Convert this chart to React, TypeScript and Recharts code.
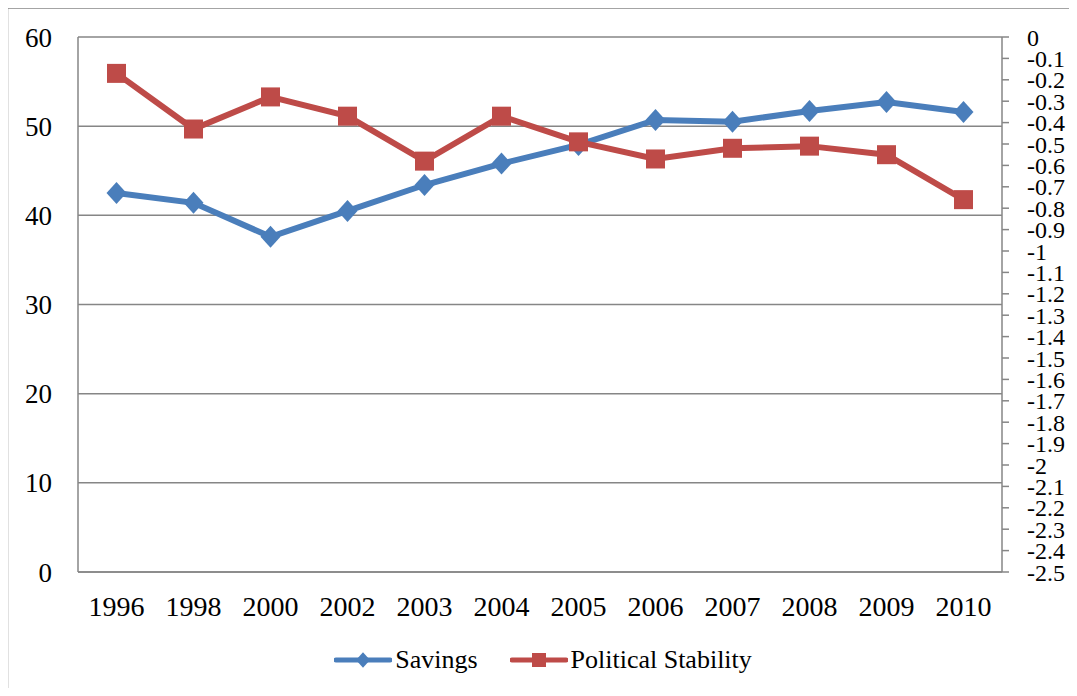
import { LineChart, Line, XAxis, YAxis, CartesianGrid, Legend } from 'recharts'

const years = ['1996', '1998', '2000', '2002', '2003', '2004', '2005', '2006', '2007', '2008', '2009', '2010']
const savings = [42.5, 41.4, 37.6, 40.5, 43.4, 45.8, 47.9, 50.7, 50.5, 51.7, 52.7, 51.6]
const politicalStability = [-0.17, -0.43, -0.28, -0.37, -0.58, -0.37, -0.49, -0.57, -0.52, -0.51, -0.55, -0.76]

const leftTicks = [0, 10, 20, 30, 40, 50, 60]
const rightTicks = [
  0, -0.1, -0.2, -0.3, -0.4, -0.5, -0.6, -0.7, -0.8, -0.9, -1, -1.1, -1.2, -1.3,
  -1.4, -1.5, -1.6, -1.7, -1.8, -1.9, -2, -2.1, -2.2, -2.3, -2.4, -2.5,
]

const BLUE = '#4A7EBB'
const RED = '#BE4B48'
const GREY = '#868686'
const FONT = '"Liberation Serif", serif'

const data = years.map((year, i) => ({
  year,
  savings: savings[i],
  stability: politicalStability[i],
}))

// marker shapes; colour is fixed here since Line passes a white fill to its dots
const Diamond = (props: any) => {
  const { cx, cy, size = 10 } = props
  if (cx == null || cy == null) return null
  const h = size * 1.1
  return <path d={`M${cx},${cy - h} L${cx + size},${cy} L${cx},${cy + h} L${cx - size},${cy} Z`} fill={BLUE} />
}

const Square = (props: any) => {
  const { cx, cy, size = 9.5 } = props
  if (cx == null || cy == null) return null
  return <rect x={cx - size} y={cy - size} width={size * 2} height={size * 2} fill={RED} />
}

const renderLegend = () => (
  <div style={{ display: 'flex', justifyContent: 'center', alignItems: 'center', fontFamily: FONT, fontSize: 26, color: '#000' }}>
    <svg width={58} height={24} style={{ marginRight: 3 }}>
      <line x1={2} y1={12} x2={56} y2={12} stroke={BLUE} strokeWidth={5} strokeLinecap="round" />
      <Diamond cx={29} cy={12} size={7} />
    </svg>
    <span style={{ marginRight: 32 }}>Savings</span>
    <svg width={58} height={24} style={{ marginRight: 3 }}>
      <line x1={2} y1={12} x2={56} y2={12} stroke={RED} strokeWidth={5} strokeLinecap="round" />
      <Square cx={29} cy={12} size={7} />
    </svg>
    <span>Political Stability</span>
  </div>
)

export default function App() {
  return (
    <div style={{ position: 'relative', width: 1077, height: 696, margin: -8, overflow: 'hidden', background: '#fff' }}>
      <LineChart
        width={1077}
        height={696}
        data={data}
        margin={{ top: 37, right: 0, bottom: 84, left: 18 }}
      >
        {/* outer frame, only its top and left edges fall inside the picture */}
        <rect x={7.5} y={8} width={1200} height={800} fill="none" stroke={GREY} strokeWidth={1.5} />
        <text x={557} y={2.5} textAnchor="middle" fontFamily={FONT} fontWeight="bold" fontSize={30} fill="#000">
          1996-2010
        </text>
        <CartesianGrid yAxisId="left" vertical={false} stroke={GREY} strokeWidth={1.5} />
        <XAxis
          dataKey="year"
          padding={{ left: 38.5, right: 38.5 }}
          height={40}
          axisLine={{ stroke: GREY, strokeWidth: 1.5 }}
          tickLine={false}
          tickSize={0}
          tickMargin={24}
          tick={{ fill: '#000', fontFamily: FONT, fontSize: 28 }}
          interval={0}
        />
        <YAxis
          yAxisId="left"
          domain={[0, 60]}
          ticks={leftTicks}
          width={60}
          axisLine={{ stroke: GREY, strokeWidth: 1.5 }}
          tickLine={false}
          tickSize={0}
          tickMargin={26}
          tick={{ fill: '#000', fontFamily: FONT, fontSize: 27 }}
        />
        <YAxis
          yAxisId="right"
          orientation="right"
          domain={[-2.5, 0]}
          ticks={rightTicks}
          interval={0}
          width={75}
          axisLine={{ stroke: GREY, strokeWidth: 1.5 }}
          tickLine={{ stroke: GREY, strokeWidth: 1.5 }}
          tickSize={7}
          tickMargin={18}
          tickFormatter={(v: number) => String(Number(v.toFixed(1)))}
          tick={{ fill: '#000', fontFamily: FONT, fontSize: 24 }}
        />
        <Line
          yAxisId="left"
          dataKey="savings"
          name="Savings"
          stroke={BLUE}
          strokeWidth={6}
          dot={<Diamond />}
          activeDot={false}
          isAnimationActive={false}
        />
        <Line
          yAxisId="right"
          dataKey="stability"
          name="Political Stability"
          stroke={RED}
          strokeWidth={6}
          dot={<Square />}
          activeDot={false}
          isAnimationActive={false}
        />
        <Legend
          verticalAlign="middle"
          layout="horizontal"
          content={renderLegend}
          wrapperStyle={{ position: 'absolute', top: 645, left: 0, width: 1086 }}
        />
      </LineChart>
    </div>
  )
}
